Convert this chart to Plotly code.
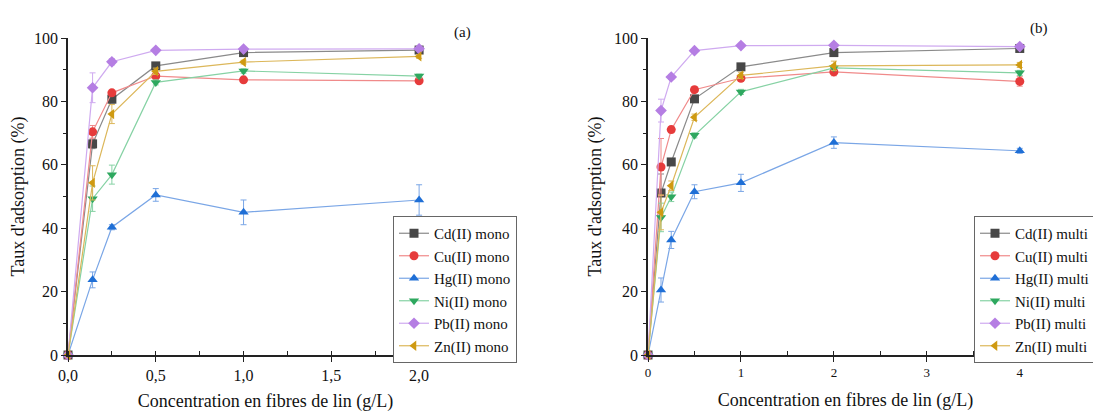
import plotly.graph_objects as go

# ---------------- data ----------------
series_names = ["Cd(II)", "Cu(II)", "Hg(II)", "Ni(II)", "Pb(II)", "Zn(II)"]

x_mono = [0, 0.14, 0.25, 0.5, 1.0, 2.0]
cd_mono = [0, 66.6, 80.7, 91.2, 95.4, 96.2]
cu_mono = [0, 70.4, 82.7, 88.0, 86.8, 86.5]
hg_mono = [0, 23.7, 40.3, 50.5, 45.0, 48.9]
ni_mono = [0, 49.3, 56.9, 86.0, 89.6, 88.0]
pb_mono = [0, 84.3, 92.5, 96.1, 96.5, 96.6]
zn_mono = [0, 54.3, 76.0, 89.5, 92.4, 94.2]

cd_mono_err = [0, 1.5, 1.2, 0.8, 0.6, 0.5]
cu_mono_err = [0, 2.0, 0.8, 0.8, 0.6, 0.6]
hg_mono_err = [0, 2.5, 0.8, 2.0, 3.9, 4.8]
ni_mono_err = [0, 4.0, 3.0, 0.8, 0.7, 0.6]
pb_mono_err = [0, 4.7, 1.0, 0.5, 0.5, 0.5]
zn_mono_err = [0, 5.4, 3.0, 1.0, 0.6, 0.6]

x_multi = [0, 0.14, 0.25, 0.5, 1.0, 2.0, 4.0]
cd_multi = [0, 51.1, 60.9, 80.8, 90.9, 95.4, 96.7]
cu_multi = [0, 59.3, 71.1, 83.7, 87.3, 89.3, 86.3]
hg_multi = [0, 20.5, 36.3, 51.5, 54.3, 67.0, 64.4]
ni_multi = [0, 43.4, 49.9, 69.3, 83.0, 90.6, 89.0]
pb_multi = [0, 77.1, 87.7, 96.0, 97.6, 97.7, 97.3]
zn_multi = [0, 45.0, 53.4, 75.0, 88.2, 91.2, 91.5]

cd_multi_err = [0, 6.0, 1.0, 0.8, 0.8, 0.6, 0.6]
cu_multi_err = [0, 9.0, 1.0, 0.8, 0.8, 1.2, 1.5]
hg_multi_err = [0, 3.8, 2.7, 2.2, 2.7, 1.8, 0.8]
ni_multi_err = [0, 4.5, 1.5, 0.8, 0.8, 0.8, 0.8]
pb_multi_err = [0, 3.6, 0.8, 0.5, 0.5, 0.5, 0.5]
zn_multi_err = [0, 5.5, 1.5, 1.0, 1.0, 1.5, 0.8]

y_tickvals = [0, 20, 40, 60, 80, 100]
y_ticktext = ["0", "20", "40", "60", "80", "100"]
xa_tickvals = [0, 0.5, 1.0, 1.5, 2.0]
xa_ticktext = ["0,0", "0,5", "1,0", "1,5", "2,0"]
xb_tickvals = [0, 1, 2, 3, 4]
xb_ticktext = ["0", "1", "2", "3", "4"]

# ---------------- style ----------------
marker_colors = ["#474747", "#e63b3b", "#1f6fd6", "#2ea85f", "#b57ee3", "#cf9a12"]
line_colors = ["#8a8a8a", "#f08a8a", "#7aa6e6", "#86d2a4", "#cfaaf0", "#dcb75a"]
symbols = ["square", "circle", "triangle-up", "triangle-down", "diamond", "triangle-left"]
FONT = "Liberation Serif"

mono_vals = [cd_mono, cu_mono, hg_mono, ni_mono, pb_mono, zn_mono]
mono_errs = [cd_mono_err, cu_mono_err, hg_mono_err, ni_mono_err, pb_mono_err, zn_mono_err]
multi_vals = [cd_multi, cu_multi, hg_multi, ni_multi, pb_multi, zn_multi]
multi_errs = [cd_multi_err, cu_multi_err, hg_multi_err, ni_multi_err, pb_multi_err, zn_multi_err]

fig = go.Figure()

for i, name in enumerate(series_names):
    fig.add_trace(go.Scatter(
        x=x_mono, y=mono_vals[i], name=name + " mono", mode="lines+markers",
        line=dict(color=line_colors[i], width=1.2),
        marker=dict(symbol=symbols[i], color=marker_colors[i], size=9,
                    line=dict(width=0)),
        error_y=dict(type="data", array=mono_errs[i], color=line_colors[i],
                     thickness=1, width=3),
        xaxis="x", yaxis="y", legend="legend", cliponaxis=False,
    ))

for i, name in enumerate(series_names):
    fig.add_trace(go.Scatter(
        x=x_multi, y=multi_vals[i], name=name + " multi", mode="lines+markers",
        line=dict(color=line_colors[i], width=1.2),
        marker=dict(symbol=symbols[i], color=marker_colors[i], size=9,
                    line=dict(width=0)),
        error_y=dict(type="data", array=multi_errs[i], color=line_colors[i],
                     thickness=1, width=3),
        xaxis="x2", yaxis="y2", legend="legend2", cliponaxis=False,
    ))

# page has an 8px body margin: figure placed at (8, 8)
OFF = 8
W, H = 1101 - OFF, 412 - OFF


def px_x(p):
    return (p - OFF) / W


def px_y(p):
    return 1 - (p - OFF) / H


y_dom = [px_y(355), px_y(38)]

axis_common = dict(
    showline=True, linecolor="#222", linewidth=1.6, showgrid=False,
    zeroline=False, ticks="outside", ticklen=5, tickwidth=1.3, tickcolor="#222",
    mirror=False, automargin=False,
)

yaxis_common = dict(
    axis_common, range=[0, 100], tickvals=y_tickvals, ticktext=y_ticktext,
    tickfont=dict(family=FONT, size=16, color="#111"),
    title=dict(text="Taux d'adsorption (%)", font=dict(family=FONT, size=18, color="#111"),
               standoff=8),
    minor=dict(dtick=10, ticks="outside", ticklen=3, tickwidth=1, tickcolor="#222"),
)

legend_common = dict(
    xanchor="left", yanchor="top",
    bordercolor="#666", borderwidth=1, bgcolor="white",
    font=dict(family=FONT, size=15, color="#111"),
    tracegroupgap=0, itemwidth=30,
)

fig.update_layout(
    width=W, height=H,
    paper_bgcolor="white", plot_bgcolor="white",
    margin=dict(l=0, r=0, t=0, b=0, autoexpand=False),
    font=dict(family=FONT, color="#111"),
    xaxis=dict(
        axis_common, domain=[px_x(68), px_x(463)], range=[0, 2.25],
        tickvals=xa_tickvals, ticktext=xa_ticktext,
        tickfont=dict(family=FONT, size=16, color="#111"),
        title=dict(text="Concentration en fibres de lin (g/L)",
                   font=dict(family=FONT, size=18, color="#111"), standoff=12),
        minor=dict(dtick=0.25, ticks="inside", ticklen=4, tickwidth=1, tickcolor="#222"),
        anchor="y",
    ),
    yaxis=dict(yaxis_common, domain=y_dom, anchor="x"),
    xaxis2=dict(
        axis_common, domain=[px_x(648), px_x(1043)], range=[0, 4.25],
        tickvals=xb_tickvals, ticktext=xb_ticktext,
        tickfont=dict(family=FONT, size=13, color="#111"),
        title=dict(text="Concentration en fibres de lin (g/L)",
                   font=dict(family=FONT, size=18, color="#111"), standoff=14),
        minor=dict(dtick=0.5, ticks="inside", ticklen=4, tickwidth=1, tickcolor="#222"),
        anchor="y2",
    ),
    yaxis2=dict(yaxis_common, domain=y_dom, anchor="x2"),
    legend=dict(legend_common, x=px_x(393), y=px_y(216)),
    legend2=dict(legend_common, x=px_x(974), y=px_y(216)),
    annotations=[
        dict(text="(a)", x=px_x(462), y=px_y(22), xref="paper", yref="paper",
             showarrow=False, font=dict(family=FONT, size=15, color="#111")),
        dict(text="(b)", x=px_x(1050), y=px_y(18), xref="paper", yref="paper",
             showarrow=False, font=dict(family=FONT, size=15, color="#111")),
    ],
)

fig.write_html("out.html")
